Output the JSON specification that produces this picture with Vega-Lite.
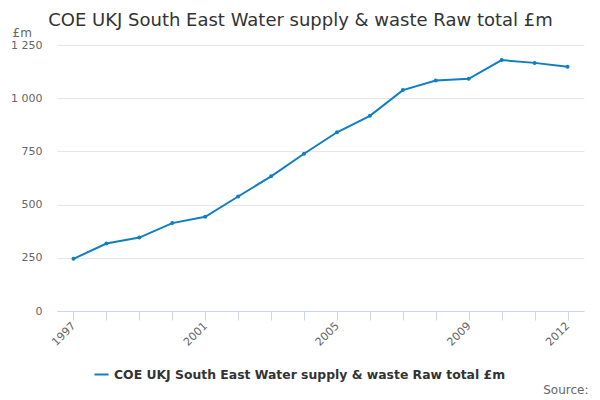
{
  "$schema": "https://vega.github.io/schema/vega-lite/v6.json",
  "width": 527,
  "height": 266,
  "autosize": "none",
  "padding": {"left": 57, "top": 45, "right": 16, "bottom": 89},
  "background": "white",
  "config": {
    "font": "DejaVu Sans",
    "view": {"stroke": null}
  },
  "title": {
    "text": "COE UKJ South East Water supply & waste Raw total £m",
    "fontSize": 18,
    "fontWeight": "normal",
    "color": "#333333",
    "anchor": "middle",
    "dx": -20,
    "offset": -4
  },
  "data": {
    "values": [
      {"year": "1997", "series": "COE UKJ South East Water supply & waste Raw total £m", "value": 245},
      {"year": "1998", "series": "COE UKJ South East Water supply & waste Raw total £m", "value": 317},
      {"year": "1999", "series": "COE UKJ South East Water supply & waste Raw total £m", "value": 345},
      {"year": "2000", "series": "COE UKJ South East Water supply & waste Raw total £m", "value": 413},
      {"year": "2001", "series": "COE UKJ South East Water supply & waste Raw total £m", "value": 443},
      {"year": "2002", "series": "COE UKJ South East Water supply & waste Raw total £m", "value": 538},
      {"year": "2003", "series": "COE UKJ South East Water supply & waste Raw total £m", "value": 633},
      {"year": "2004", "series": "COE UKJ South East Water supply & waste Raw total £m", "value": 739},
      {"year": "2005", "series": "COE UKJ South East Water supply & waste Raw total £m", "value": 840},
      {"year": "2006", "series": "COE UKJ South East Water supply & waste Raw total £m", "value": 917},
      {"year": "2007", "series": "COE UKJ South East Water supply & waste Raw total £m", "value": 1038},
      {"year": "2008", "series": "COE UKJ South East Water supply & waste Raw total £m", "value": 1083},
      {"year": "2009", "series": "COE UKJ South East Water supply & waste Raw total £m", "value": 1091},
      {"year": "2010", "series": "COE UKJ South East Water supply & waste Raw total £m", "value": 1179},
      {"year": "2011", "series": "COE UKJ South East Water supply & waste Raw total £m", "value": 1166},
      {"year": "2012", "series": "COE UKJ South East Water supply & waste Raw total £m", "value": 1148}
    ]
  },
  "mark": {"type": "line", "strokeWidth": 2, "point": {"size": 16, "filled": true}},
  "encoding": {
    "x": {
      "field": "year",
      "type": "ordinal",
      "scale": {"type": "point", "padding": 0.5},
      "axis": {
        "title": "Source:",
        "titleFontSize": 12,
        "titleFontWeight": "normal",
        "titleColor": "#666666",
        "titleAnchor": null,
        "titleX": 531,
        "titleY": 82,
        "titleAlign": "right",
        "titleBaseline": "alphabetic",
        "labelAngle": -45,
        "labelAlign": "right",
        "labelBaseline": "middle",
        "labelFontSize": 11,
        "labelColor": "#666666",
        "labelPadding": 4,
        "labelExpr": "indexof(['1997','2001','2005','2009','2012'], datum.value) >= 0 ? datum.value : ''",
        "domainColor": "#ccd6eb",
        "tickColor": "#ccd6eb",
        "tickSize": 9,
        "grid": false
      }
    },
    "y": {
      "field": "value",
      "type": "quantitative",
      "scale": {"domain": [0, 1250]},
      "axis": {
        "title": "£m",
        "titleAngle": 0,
        "titleX": -45,
        "titleY": -9,
        "titleAlign": "left",
        "titleBaseline": "alphabetic",
        "titleFontSize": 12,
        "titleFontWeight": "normal",
        "titleColor": "#666666",
        "values": [0, 250, 500, 750, 1000, 1250],
        "labelExpr": "replace(format(datum.value, ','), ',', ' ')",
        "labelFontSize": 11,
        "labelColor": "#666666",
        "labelPadding": 15,
        "domain": false,
        "ticks": false,
        "gridColor": "#e6e6e6"
      }
    },
    "color": {
      "field": "series",
      "type": "nominal",
      "scale": {"range": ["#0f7fc2"]},
      "legend": {
        "title": null,
        "orient": "none",
        "legendX": 36,
        "legendY": 321,
        "labelFontSize": 12.4,
        "labelFontWeight": "bold",
        "labelColor": "#333333",
        "labelLimit": 600,
        "symbolType": "stroke",
        "symbolSize": 200,
        "symbolStrokeWidth": 2
      }
    }
  }
}
